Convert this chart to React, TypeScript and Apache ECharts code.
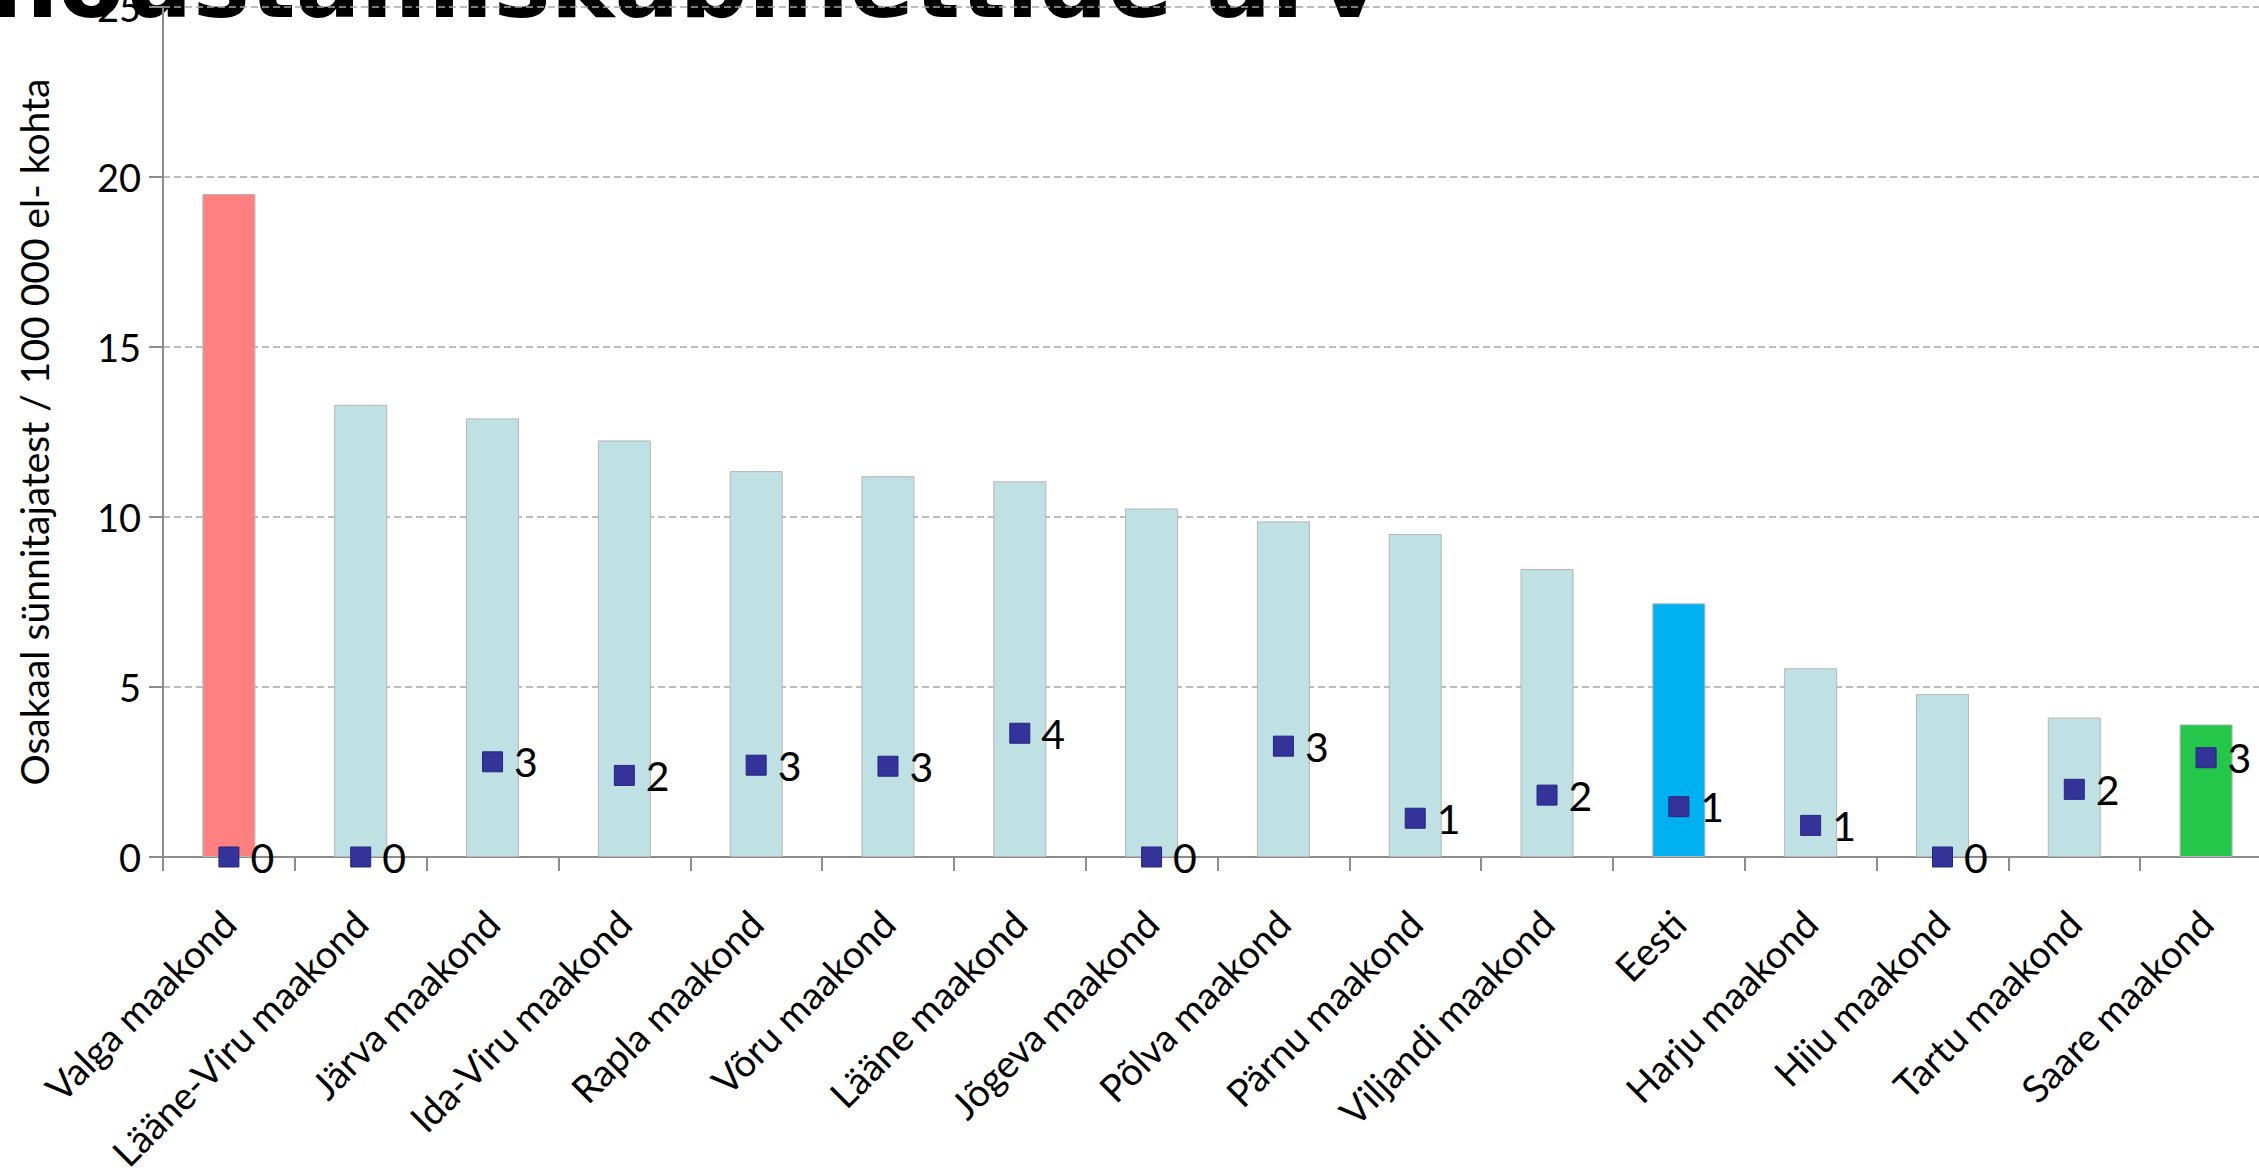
import React, { useEffect, useRef } from "react";
import * as echarts from "echarts";

const categories = [
  "Valga maakond",
  "Lääne-Viru maakond",
  "Järva maakond",
  "Ida-Viru maakond",
  "Rapla maakond",
  "Võru maakond",
  "Lääne maakond",
  "Jõgeva maakond",
  "Põlva maakond",
  "Pärnu maakond",
  "Viljandi maakond",
  "Eesti",
  "Harju maakond",
  "Hiiu maakond",
  "Tartu maakond",
  "Saare maakond",
];

// Osakaal sünnitajatest / 100 000 el- kohta
const rates = [19.5, 13.3, 12.9, 12.25, 11.35, 11.2, 11.05, 10.25, 9.87, 9.5, 8.47, 7.46, 5.55, 4.79, 4.1, 3.9];

// marker heights
const officeMarkers = [0, 0, 2.8, 2.4, 2.7, 2.67, 3.64, 0, 3.26, 1.14, 1.82, 1.48, 0.93, 0, 1.99, 2.92];

// nõustamiskabinettide arv (labels)
const officeCounts = [0, 0, 3, 2, 3, 3, 4, 0, 3, 1, 2, 1, 1, 0, 2, 3];

const yTicks = [0, 5, 10, 15, 20, 25];

const titleText = "nõustamiskabinettide arv";
const yAxisTitle = "Osakaal sünnitajatest / 100 000 el- kohta";

const highlightColors: Record<string, string> = {
  "Valga maakond": "#FF8080",
  Eesti: "#00B0F0",
  "Saare maakond": "#25C74A",
};

const LABEL_FONT = "Lato, 'Open Sans', sans-serif";

export default function App() {
  const ref = useRef<HTMLDivElement>(null);

  useEffect(() => {
    if (!ref.current) return;
    const chart = echarts.init(ref.current, undefined, { renderer: "svg" });

    const barData = rates.map((v, i) => ({
      value: v,
      itemStyle: { color: highlightColors[categories[i]] || "#BFE1E4" },
    }));

    const option: any = {
      animation: false,
      backgroundColor: "#ffffff",
      grid: {
        left: 163,
        top: 7,
        width: 2109,
        bottom: 318,
        containLabel: false,
        outerBoundsMode: "none",
      },
      graphic: [
        {
          type: "text",
          z: -10,
          x: -10,
          y: -16,
          style: {
            text: titleText,
            font: "bold 96px 'DejaVu Sans', sans-serif",
            fill: "#000000",
            align: "left",
            verticalAlign: "middle",
          },
        },
      ],
      xAxis: {
        type: "category",
        data: categories,
        axisLine: { lineStyle: { color: "#8C8C8C", width: 2 } },
        axisTick: { show: true, length: 14, lineStyle: { color: "#8C8C8C", width: 2 } },
        axisLabel: {
          interval: 0,
          rotate: 45,
          margin: 60,
          color: "#000000",
          fontFamily: LABEL_FONT,
          fontSize: 38,
        },
      },
      yAxis: {
        type: "value",
        min: yTicks[0],
        max: yTicks[yTicks.length - 1],
        interval: 5,
        name: yAxisTitle,
        nameLocation: "middle",
        nameGap: 110,
        nameTextStyle: { color: "#000000", fontFamily: LABEL_FONT, fontSize: 39 },
        axisLine: { show: true, lineStyle: { color: "#8C8C8C", width: 2 } },
        axisTick: { show: true, length: 14, lineStyle: { color: "#8C8C8C", width: 2 } },
        axisLabel: {
          margin: 22,
          color: "#000000",
          fontFamily: LABEL_FONT,
          fontSize: 38,
        },
        splitLine: {
          show: true,
          lineStyle: { color: "#A6A6A6", width: 1.5, type: [7, 4] },
        },
      },
      series: [
        {
          type: "bar",
          data: barData,
          barWidth: 53,
          itemStyle: { borderColor: "#B5B5B5", borderWidth: 1 },
          z: 2,
        },
        {
          type: "scatter",
          data: officeMarkers,
          symbol: "rect",
          symbolSize: 20,
          itemStyle: { color: "#333399", borderColor: "#262680", borderWidth: 1, opacity: 1 },
          label: {
            show: true,
            position: "right",
            distance: 11,
            color: "#000000",
            fontFamily: LABEL_FONT,
            fontSize: 41,
            formatter: (p: any) => String(officeCounts[p.dataIndex]),
          },
          z: 5,
        },
      ],
    };

    chart.setOption(option);
    return () => chart.dispose();
  }, []);

  return (
    <div
      ref={ref}
      style={{ position: "fixed", left: 0, top: 0, width: 2259, height: 1175, background: "#fff" }}
    />
  );
}
